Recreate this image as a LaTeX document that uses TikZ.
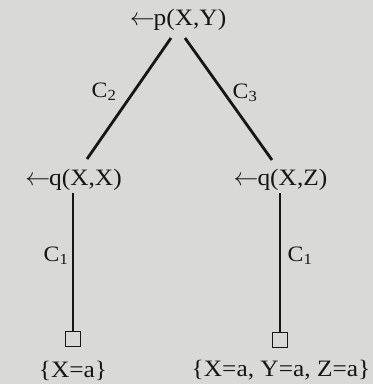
\documentclass[tikz,border=0pt]{standalone}
\usepackage{fontspec}
\setmainfont[FakeStretch=1.08]{Liberation Serif}
\definecolor{paper}{HTML}{D9D9D7}
\definecolor{ink}{HTML}{161616}
\newcommand{\larr}{$\leftarrow$\kern-1pt}
\begin{document}
\begin{tikzpicture}[x=1pt,y=-1pt,
  lbl/.style={inner sep=0pt,text=ink,font=\fontsize{23.5}{27}\selectfont},
  elbl/.style={inner sep=0pt,text=ink,font=\fontsize{22}{26}\selectfont},
  leaf/.style={draw=ink,line width=1.1pt,minimum size=14.5pt,inner sep=0pt},
  edge/.style={draw=ink,line width=2.8pt},
  vedge/.style={draw=ink,line width=2.6pt}]
\fill[paper] (0,0) rectangle (373,384);
\useasboundingbox (0,0) rectangle (373,384);
\node[lbl] (r) at (178,20) {\larr p(X,Y)};
\node[lbl] (l) at (73.5,180) {\larr q(X,X)};
\node[lbl] (rr) at (280.5,180) {\larr q(X,Z)};
\node[leaf] (sl) at (73,339) {};
\node[leaf] (sr) at (280,340) {};
\node[lbl] (tl) at (73,371) {\{X=a\}};
\node[lbl] (tr) at (281,370) {\{X=a, Y=a, Z=a\}};
\coordinate (r1) at (171,38);
\coordinate (r2) at (185,38);
\coordinate (l1) at (87,159);
\coordinate (rr1) at (272,160);
\coordinate (l2) at (73,193);
\coordinate (rr2) at (280,193);
\draw[edge] (r1) -- (l1);
\draw[edge] (r2) -- (rr1);
\draw[vedge] (l2) -- (sl.north);
\draw[vedge] (rr2) -- (sr.north);
\node[elbl] (c2) at (104,92) {C\textsubscript{2}};
\node[elbl] (c3) at (245,93) {C\textsubscript{3}};
\node[elbl] (c1l) at (56,256) {C\textsubscript{1}};
\node[elbl] (c1r) at (300,256) {C\textsubscript{1}};
\end{tikzpicture}
\end{document}
